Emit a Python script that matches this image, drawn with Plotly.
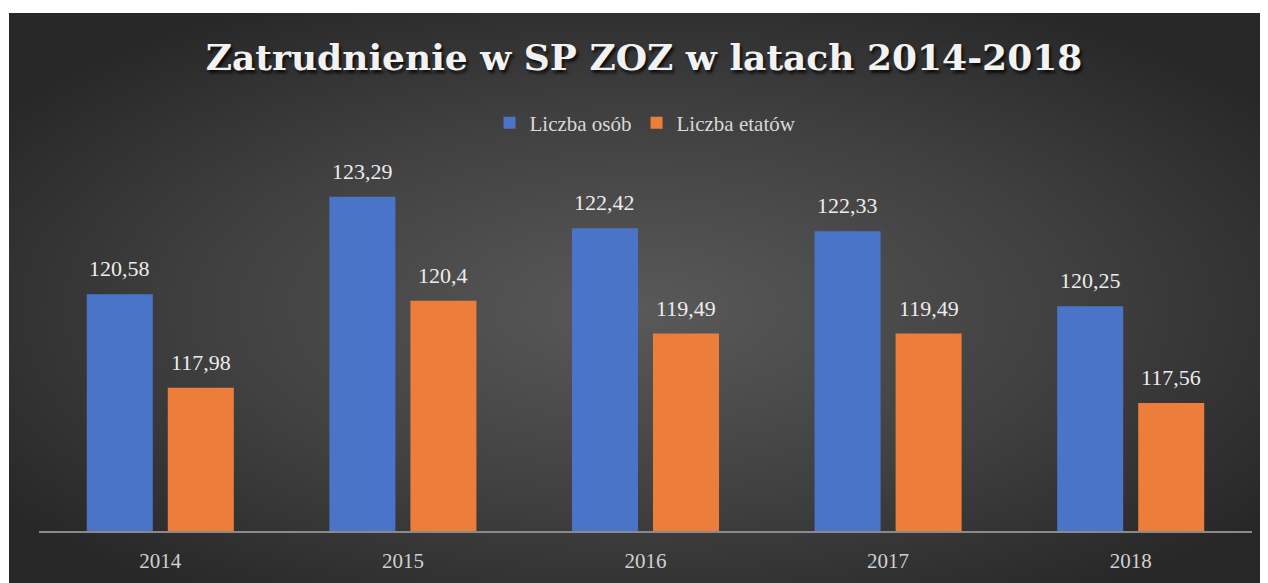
import base64
import plotly.graph_objects as go

years = ["2014", "2015", "2016", "2017", "2018"]
osoby = [120.58, 123.29, 122.42, 122.33, 120.25]
etaty = [117.98, 120.40, 119.49, 119.49, 117.56]
series_names = ["Liczba osób", "Liczba etatów"]
title_text = "Zatrudnienie w SP ZOZ w latach 2014-2018"

# page body has an 8px margin, so the figure is 8px smaller than the window
W, H = 1260, 575
ML, MR, MT, MB = 31, 16, 142, 52
PW, PH = W - ML - MR, H - MT - MB

# background radial gradient as an SVG image
bx0, by0 = 1, 5
bw, bh = W - bx0, H - by0
svg = f'''<svg xmlns="http://www.w3.org/2000/svg" width="{bw}" height="{bh}" viewBox="0 0 {bw} {bh}" preserveAspectRatio="none">
<defs><radialGradient id="g" cx="0.5" cy="0.52" r="0.62">
<stop offset="0" stop-color="#595959"/><stop offset="0.55" stop-color="#404040"/><stop offset="1" stop-color="#272727"/>
</radialGradient></defs><rect width="{bw}" height="{bh}" fill="url(#g)"/></svg>'''
src = "data:image/svg+xml;base64," + base64.b64encode(svg.encode()).decode()

blue = "#4a74c8"
orange = "#ed7d3a"

fig = go.Figure()
fig.add_trace(go.Bar(x=years, y=osoby, name=series_names[0], marker=dict(color=blue, line=dict(width=0))))
fig.add_trace(go.Bar(x=years, y=etaty, name=series_names[1], marker=dict(color=orange, line=dict(width=0))))

slot = PW / len(years)
bargap = 0.332
bgg = 0.185
off = (1 - bargap) * slot / 4

def fmt(v):
    s = f"{v:.2f}".rstrip("0").rstrip(".")
    return s.replace(".", ",")

ann = []
for vals, sh in ((osoby, -off), (etaty, off)):
    for i, v in enumerate(vals):
        ann.append(dict(x=i, y=v, xref="x", yref="y", text=fmt(v), showarrow=False,
                        xshift=sh, yshift=11, yanchor="bottom",
                        font=dict(family="Liberation Serif", size=22, color="#ececec")))

fig.update_layout(
    width=W, height=H,
    margin=dict(l=ML, r=MR, t=MT, b=MB, autoexpand=False),
    paper_bgcolor="white",
    plot_bgcolor="rgba(0,0,0,0)",
    barmode="group", bargap=bargap, bargroupgap=bgg,
    title=dict(text=f"<b>{title_text}</b>", x=636 / W, xanchor="center", y=1 - 49 / H, yanchor="middle",
               font=dict(family="DejaVu Serif", size=36, color="#f2f2f2",
                         shadow="2px 3px 3px rgba(0,0,0,0.75)")),
    legend=dict(orientation="h", x=0.5, xanchor="center", y=(H - MB - 115) / PH,
                yanchor="middle", font=dict(family="Liberation Serif", size=21, color="#d9d9d9"),
                bgcolor="rgba(0,0,0,0)", itemwidth=30, traceorder="normal"),
    xaxis=dict(type="category", range=[-0.5, len(years) - 0.5], autorange=False,
               showline=True, linecolor="#8a8a8a", linewidth=2, ticks="", showgrid=False,
               ticklabelstandoff=10,
               tickfont=dict(family="Liberation Serif", size=21, color="#d0d0d0")),
    yaxis=dict(range=[114, 114 + PH / 35.97], autorange=False, visible=False, showgrid=False, zeroline=False),
    annotations=ann,
    images=[dict(source=src, xref="paper", yref="paper",
                 x=(bx0 - ML) / PW, y=(H - MB - by0) / PH,
                 sizex=bw / PW, sizey=bh / PH, xanchor="left", yanchor="top",
                 sizing="stretch", layer="below")],
)

fig.write_html("out.html")
